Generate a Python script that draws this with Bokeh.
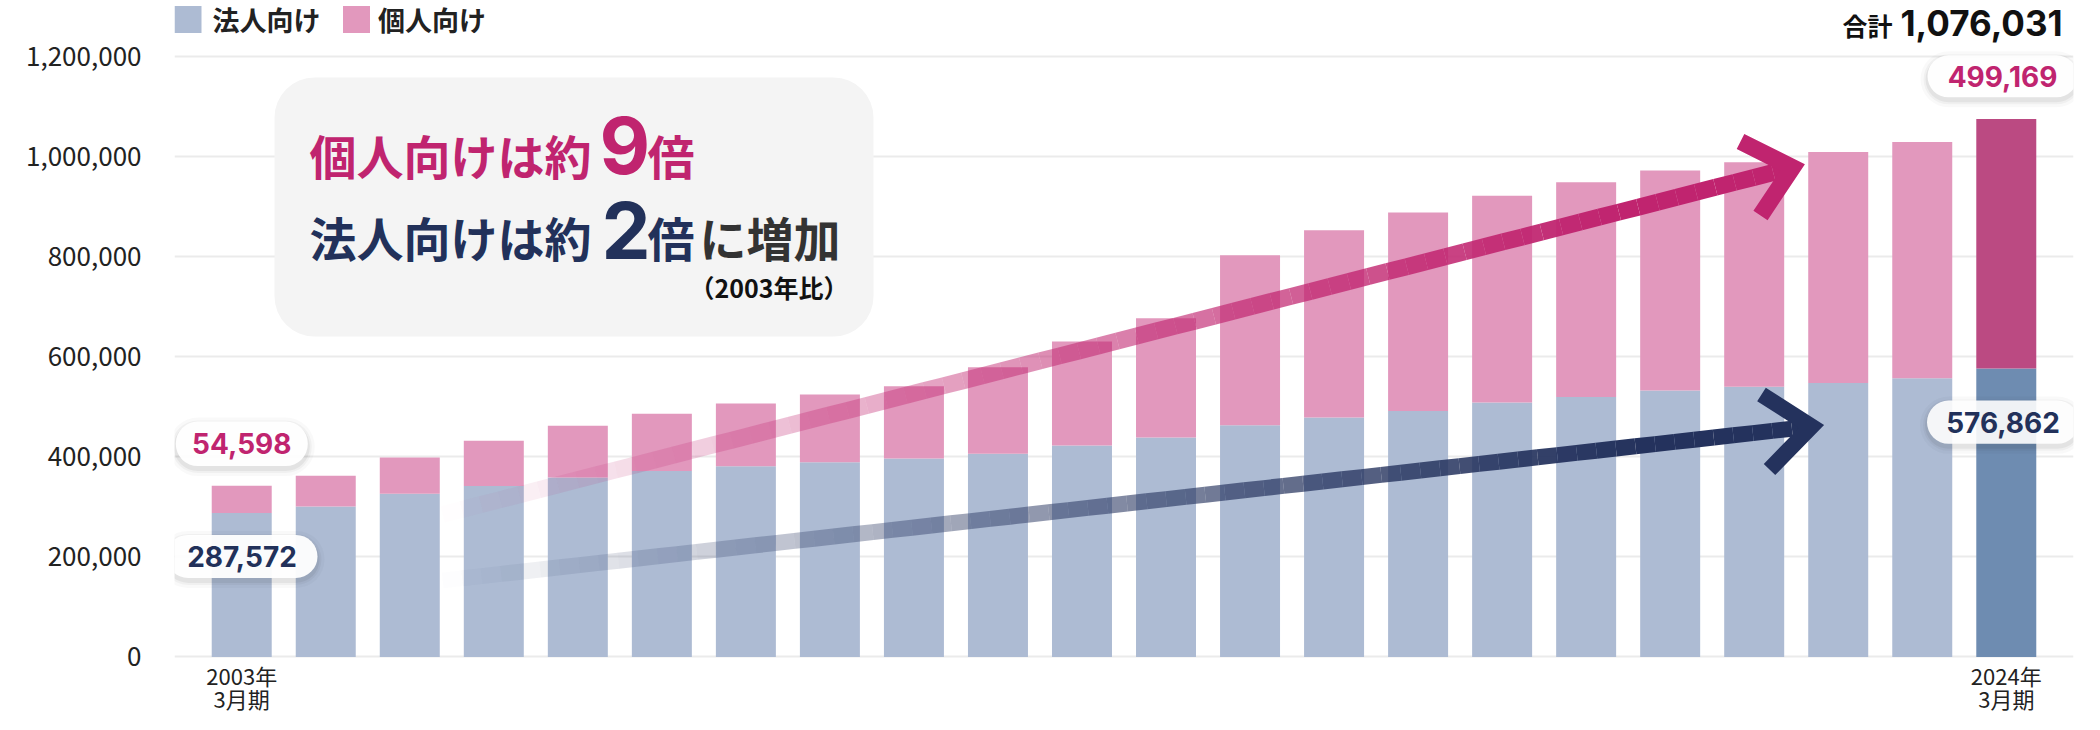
import numpy as np
from bokeh.plotting import figure
from bokeh.models import ColumnDataSource, FixedTicker, NumeralTickFormatter
from bokeh.core.properties import value
from bokeh.embed import file_html
from bokeh.resources import INLINE

# ---------------- data ----------------
years = list(range(2003, 2025))
corporate = [287572, 300900, 326100, 341900, 358700, 371800, 381100, 389500,
             396900, 406200, 423000, 438800, 463100, 478900, 491900, 508700,
             519900, 532900, 540400, 547800, 557200, 576862]
individual = [54598, 61500, 72700, 90400, 103400, 114600, 125800, 135100,
              144400, 173300, 207800, 238500, 340100, 374500, 396900, 413700,
              429500, 439800, 449100, 462100, 472400, 499169]
y_ticks = [0, 200000, 400000, 600000, 800000, 1000000, 1200000]
x_tick_pos = [0, 21]
x_tick_line1 = ["2003年", "2024年"]
x_tick_line2 = ["3月期", "3月期"]
series_names = ["法人向け", "個人向け"]
unit_label = "（件）"
total_label = "合計"

# ---------------- colours ----------------
BLUE, BLUE_LAST = "#adbbd3", "#6e8cb1"
PINK, PINK_LAST = "#e298bd", "#bb4a82"
PINK_TXT, NAVY_TXT = "#c0246f", "#22315a"

# ---------------- layout helpers (canvas px -> data) ----------------
W, H = 2084, 714
FL, FR = 174, 11                 # left / right borders inside canvas
XR = (-0.8, 21.8)
XPX = (W - FL - FR) / (XR[1] - XR[0])
Y0 = 656.4                       # canvas y of value 0
YPX = 600 / 1200000.0            # px per unit
YR = ((Y0 - H) / YPX, Y0 / YPX)


def dx(px):
    return XR[0] + (px - FL) / XPX


def dy(py):
    return (Y0 - py) / YPX


idx = list(range(len(years)))
totals = [c + i for c, i in zip(corporate, individual)]
src = ColumnDataSource(dict(
    x=idx, corp=corporate, total=totals,
    cc=[BLUE] * (len(idx) - 1) + [BLUE_LAST],
    pc=[PINK] * (len(idx) - 1) + [PINK_LAST],
))

p = figure(width=W, height=H, x_range=XR, y_range=YR,
           output_backend="svg", toolbar_location=None,
           min_border_left=FL, min_border_right=FR,
           min_border_top=0, min_border_bottom=0)
p.outline_line_color = None
p.xgrid.visible = False
p.xaxis.visible = False
p.ygrid.grid_line_color = "#ebebeb"
p.ygrid.grid_line_width = 2

# y axis
p.yaxis.ticker = FixedTicker(ticks=y_ticks)
p.yaxis.formatter = NumeralTickFormatter(format="0,0")
p.yaxis.axis_line_color = None
p.yaxis.major_tick_line_color = None
p.yaxis.minor_tick_line_color = None
p.yaxis.major_tick_out = 0
p.yaxis.major_tick_in = 0
p.yaxis.major_label_text_font = "Noto Sans CJK JP"
p.yaxis.major_label_text_color = "#222222"
p.yaxis.major_label_text_font_size = "26px"
p.yaxis.major_label_standoff = 33

# bars
p.vbar(x="x", bottom=0, top="corp", width=0.714, fill_color="cc",
       line_color=None, source=src)
p.vbar(x="x", bottom="corp", top="total", width=0.714, fill_color="pc",
       line_color=None, source=src)

# x category labels (two lines under first and last bar)
for lines, cy in ((x_tick_line1, 674), (x_tick_line2, 697)):
    p.text(x=x_tick_pos, y=[dy(cy)] * len(x_tick_pos), text=lines,
           text_font=value("Noto Sans CJK JP"), text_font_size="22px",
           text_color="#222222", text_align="center",
           text_baseline="middle")


def txt(x, y, s, size, color, font="Noto Sans CJK JP", align="left",
        style="bold"):
    p.text(x=[dx(x)], y=[dy(y)], text=[s], text_font=value(font),
           text_font_style=style, text_font_size=size, text_color=color,
           text_align=align, text_baseline="middle")


# legend (swatches + labels)
p.rect(x=[dx(187.5), dx(356)], y=[dy(19)] * 2, width=27, height=27,
       width_units="screen", height_units="screen",
       fill_color=[BLUE, PINK], line_color=None)
txt(212, 19, series_names[0], "27px", "#222222")
txt(377.5, 19, series_names[1], "27px", "#222222")
txt(122.5, 19, unit_label, "24px", "#222222", align="center")

# total label
txt(1892, 24, total_label, "25px", "#111111", align="right")
txt(1900, 22, f"{totals[-1]:,}", "35px", "#111111", font="Inter")

# message box
p.quad(left=dx(274), right=dx(873), top=dy(77), bottom=dy(336),
       fill_color="#f4f4f4", line_color=None, border_radius=40)

txt(309, 154, "個人向けは約", "47px", PINK_TXT)
txt(599, 145, "9", "78px", PINK_TXT, font="Inter")
txt(647, 154, "倍", "47px", PINK_TXT)
txt(309, 236, "法人向けは約", "47px", NAVY_TXT)
txt(601, 230, "2", "78px", NAVY_TXT, font="Inter")
txt(647, 236, "倍", "47px", NAVY_TXT)
txt(699, 236, "に増加", "47px", "#333333")
txt(848, 286.5, "（2003年比）", "25px", "#111111", align="right")


# arrows (gradient line + chevron head)
def arrow(p0, p1, up, lo, color, width):
    n = 70
    t = np.linspace(0, 1, n + 1)
    xs = p0[0] + (p1[0] - p0[0]) * t
    ys = p0[1] + (p1[1] - p0[1]) * t
    tm = (t[:-1] + t[1:]) / 2
    alpha = np.minimum(1.0, 1.15 * tm)
    p.segment(x0=[dx(v) for v in xs[:-1]], y0=[dy(v) for v in ys[:-1]],
              x1=[dx(v) for v in xs[1:]], y1=[dy(v) for v in ys[1:]],
              line_color=color, line_alpha=alpha, line_width=width,
              line_cap="butt")
    p.line(x=[dx(up[0]), dx(p1[0]), dx(lo[0])],
           y=[dy(up[1]), dy(p1[1]), dy(lo[1])],
           line_color=color, line_width=width, line_join="miter",
           line_cap="butt")


arrow((442, 514), (1792, 167), (1740, 141), (1760, 215), "#c0246f", 17)
arrow((442, 580), (1811, 426), (1761, 394), (1769, 469), "#24325d", 16)


# value pills
def pill(cx, cy, w, h, s, color, alpha=0.95):
    for k, a in ((7, 0.025), (4, 0.035), (2, 0.05)):
        p.rect(x=[dx(cx)], y=[dy(cy + 3)], width=w + 2 * k, height=h + 2 * k,
               width_units="screen", height_units="screen",
               border_radius=int(round((h + 2 * k) / 2)), fill_color="black",
               fill_alpha=a, line_color=None)
    p.rect(x=[dx(cx)], y=[dy(cy)], width=w, height=h, width_units="screen",
           height_units="screen", border_radius=int(round(h / 2)),
           fill_color="white", fill_alpha=alpha, line_color=None)
    p.text(x=[dx(cx)], y=[dy(cy)], text=[s], text_font=value("Inter"),
           text_font_style="bold", text_font_size="28px", text_color=color,
           text_align="center", text_baseline="middle")


pill(241.3, 443.3, 132, 44.6, f"{individual[0]:,}", PINK_TXT)
pill(241.5, 555.9, 151, 43, f"{corporate[0]:,}", NAVY_TXT)
pill(2002, 75.8, 150, 42, f"{individual[-1]:,}", PINK_TXT)
pill(2002.5, 421.7, 152, 43.3, f"{corporate[-1]:,}", NAVY_TXT, alpha=0.9)

open("out.html", "w").write(file_html(p, INLINE))
